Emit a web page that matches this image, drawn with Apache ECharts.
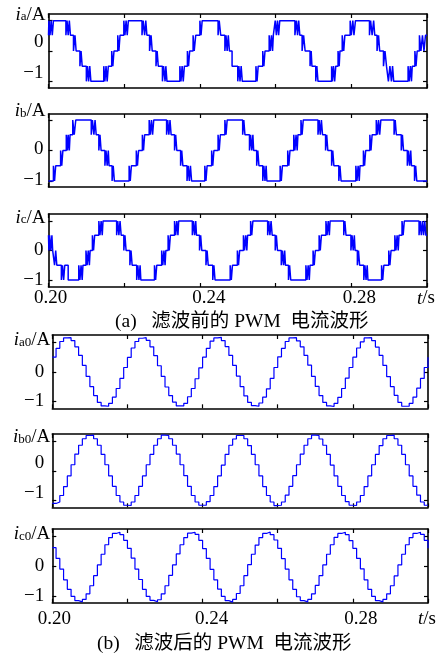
<!DOCTYPE html>
<html><head><meta charset="utf-8">
<script src="https://cdn.jsdelivr.net/npm/echarts@6/dist/echarts.min.js"></script>
<style>html,body{margin:0;padding:0;background:#fff}#c{width:439px;height:659px}</style>
</head><body><div id="c"></div>
<script>
// ---------- data (time in ms after t = 0.20 s) ----------
const xTickValuesMs = [0, 20, 40, 60, 80, 100];
const xTickLabels = ['0.20', '', '0.24', '', '0.28', 't/s'];
const yTickValues = [-1, 0, 1];
const yTickLabels = ['\u22121', '0'];           // top tick carries the panel name
const panelSubs = ['a', 'b', 'c', 'a0', 'b0', 'c0'];
const captionA = '(a)   滤波前的 PWM  电流波形';
const captionB = '(b)   滤波后的 PWM  电流波形';

// PWM currents before filtering: [switching instant ms, level after switching]
const iaSwitch = [[0,0.52],[0.1,1],[0.4,0.52],[0.7,1],[1.0,0.52],[1.3,1],
 [4.6,0.52],[4.9,1],[5.2,0.52],[5.5,1],[5.8,0.52],[6.6,0],[7.0,0.52],[7.3,0],[8.3,-0.5],[8.6,0],[8.9,-0.5],
 [10.0,-1],[10.3,-0.5],[10.6,-1],[10.9,-0.5],[11.2,-1],[14.6,-0.5],[14.9,-1],[15.2,-0.5],[15.5,-1],[15.8,-0.5],
 [16.7,0],[17.0,-0.5],[17.3,0],[18.3,0.52],[18.6,0],[18.9,0.52],[19.9,1],[20.2,0.52],[20.5,1],[20.8,0.52],[21.1,1],
 [24.7,0.52],[25.0,1],[25.4,0.52],[25.7,1],[26.0,0.52],[26.7,0],[27.1,0.52],[27.4,0],[28.4,-0.5],[28.7,0],[29.0,-0.5],
 [30.1,-1],[30.4,-0.5],[30.8,-1],[31.0,-0.5],[31.3,-1],[34.7,-0.5],[35.0,-1],[35.3,-0.5],[35.6,-1],[35.9,-0.5],
 [36.7,0],[37.0,-0.5],[37.3,0],[38.2,0.52],[38.5,0],[38.9,0.52],[40.0,1],[40.3,0.52],[40.6,1],
 [44.8,0.52],[45.1,1],[45.5,0.52],[46.6,0],[46.9,0.52],[47.2,0],[47.5,0.52],[47.8,0],[48.5,-0.5],
 [50.0,-1],[50.3,-0.5],[50.6,-1],[50.9,-0.5],[51.2,-1],[54.8,-0.5],[55.1,-1],[55.4,-0.5],
 [56.6,0],[56.9,-0.5],[57.2,0],[58.3,0.52],[58.6,0],[58.9,0.52],[59.2,0],[59.4,0.52],[59.9,1],[60.2,0.52],[60.5,1],[60.8,0.52],[61.1,1],
 [65.1,0.52],[65.5,1],[65.8,0.52],[66.1,1],[66.4,0.52],[67.0,0],[67.4,0.52],[67.8,0],[69.1,-0.5],[69.4,0],[69.6,-0.5],
 [70.6,-1],[70.9,-0.5],[71.2,-1],[74.8,-0.5],[75.0,-1],[75.3,-0.5],[75.6,-1],[75.9,-0.5],
 [76.5,0],[76.8,-0.5],[77.0,0],[77.6,0.52],[78.0,0],[78.3,0.52],[79.7,1],[80.0,0.52],[80.4,1],[80.7,0.52],[81.1,1],
 [84.8,0.52],[85.1,1],[85.5,0.52],[85.9,1],[86.2,0.52],[86.8,0],[87.2,0.52],[87.5,0],[88.5,-0.5],[88.9,0],[89.3,-0.5],
 [89.8,-1],[90.2,-0.5],[90.6,-1],[90.9,-0.5],[91.2,-1],[95.0,-0.5],[95.3,-1],[95.6,-0.5],[95.9,-1],[96.1,-0.5],
 [96.8,0],[97.1,-0.5],[97.4,0],[98.0,0.52],[98.4,0],[98.8,0.52],[99.2,0],[99.6,0.52],[100,0.52]];

const ibSwitch = [[0,-1],[1.3,-0.5],[1.6,-1],[1.9,-0.5],[3.2,0],[3.5,-0.5],[3.8,0],
 [4.7,0.52],[5.0,0],[5.2,0.52],[5.5,0],[5.7,0.52],[6.4,1],[6.8,0.52],[7.2,1],
 [11.3,0.52],[11.6,1],[12.0,0.52],[12.3,1],[12.6,0.52],[13.3,0],[13.6,0.52],[13.9,0],
 [14.9,-0.5],[15.2,0],[15.5,-0.5],[15.8,0],[16.0,-0.5],[16.8,-1],[17.1,-0.5],[17.4,-1],
 [21.3,-0.5],[21.6,-1],[21.9,-0.5],[23.2,0],[23.5,-0.5],[23.8,0],[24.8,0.52],[25.1,0],[25.4,0.52],
 [26.6,1],[26.9,0.52],[27.2,1],[27.5,0.52],[27.8,1],
 [31.2,0.52],[31.5,1],[31.8,0.52],[32.1,1],[32.4,0.52],[33.3,0],[33.6,0.52],[33.9,0],[34.9,-0.5],[35.2,0],[35.5,-0.5],
 [36.6,-1],[36.9,-0.5],[37.2,-1],[37.5,-0.5],[37.8,-1],[41.3,-0.5],[41.6,-1],[41.9,-0.5],[43.1,0],[43.4,-0.5],[43.7,0],
 [44.8,0.52],[45.1,0],[45.4,0.52],[46.6,1],[46.9,0.52],[47.2,1],
 [51.3,0.52],[51.6,1],[51.9,0.52],[53.1,0],[53.4,0.52],[53.7,0],[54.0,0.52],[54.2,0],[55.0,-0.5],[55.3,0],[55.6,-0.5],
 [56.6,-1],[56.9,-0.5],[57.2,-1],[57.5,-0.5],[57.7,-1],[61.2,-0.5],[61.5,-1],[61.8,-0.5],[63.2,0],[63.5,-0.5],[63.8,0],
 [64.8,0.52],[65.1,0],[65.4,0.52],[65.7,0],[65.9,0.52],[66.7,1],[67.0,0.52],[67.3,1],
 [71.2,0.52],[71.5,1],[71.8,0.52],[72.1,1],[72.4,0.52],[73.2,0],[73.5,0.52],[73.8,0],[74.8,-0.5],[75.1,0],[75.4,-0.5],
 [76.7,-1],[77.0,-0.5],[77.3,-1],[81.2,-0.5],[81.5,-1],[81.8,-0.5],[82.1,-1],[82.3,-0.5],[83.2,0],[83.5,-0.5],[83.8,0],
 [84.9,0.52],[85.2,0],[85.5,0.52],[86.6,1],[86.9,0.52],[87.2,1],[87.5,0.52],[87.8,1],
 [91.3,0.52],[91.6,1],[91.9,0.52],[93.2,0],[93.5,0.52],[93.8,0],[94.8,-0.5],[95.1,0],[95.4,-0.5],[95.7,0],[95.9,-0.5],
 [96.7,-1],[97.0,-0.5],[97.3,-1],[100,-1]];

const icSwitch = [[0,0.52],[0.1,0],[0.3,0.52],[0.6,0],[0.9,0.52],[1.1,0],[1.6,-0.5],[1.9,0],[2.2,-0.5],
 [3.4,-1],[3.7,-0.5],[4.0,-1],[4.3,-0.5],[5.2,-1],[8.0,-0.5],[8.3,-1],[8.6,-0.5],[8.9,-1],[9.1,-0.5],
 [9.9,0],[10.2,-0.5],[10.5,0],[10.8,-0.5],[11.0,0],[11.6,0.52],[11.9,0],[12.2,0.52],
 [13.3,1],[13.6,0.52],[13.9,1],[14.2,0.52],[14.4,1],
 [18.0,0.52],[18.3,1],[18.6,0.52],[18.9,1],[19.2,0.52],[19.9,0],[20.2,0.52],[20.5,0],[21.5,-0.5],[21.8,0],[22.1,-0.5],
 [23.3,-1],[23.6,-0.5],[23.9,-1],[24.2,-0.5],[24.4,-1],[28.0,-0.5],[28.3,-1],[28.6,-0.5],
 [29.9,0],[30.2,-0.5],[30.5,0],[30.8,-0.5],[31.0,0],[31.6,0.52],[31.9,0],[32.2,0.52],
 [33.3,1],[33.6,0.52],[33.9,1],[34.2,0.52],[34.4,1],
 [38.0,0.52],[38.3,1],[38.6,0.52],[38.9,1],[39.1,0.52],[39.9,0],[40.2,0.52],[40.5,0],[41.6,-0.5],[41.9,0],[42.2,-0.5],
 [43.4,-1],[43.7,-0.5],[44.0,-1],[48.0,-0.5],[48.3,-1],[48.6,-0.5],[49.9,0],[50.2,-0.5],[50.5,0],
 [51.5,0.52],[51.8,0],[52.1,0.52],[52.4,0],[52.6,0.52],[53.4,1],[53.7,0.52],[54.0,1],
 [57.9,0.52],[58.2,1],[58.5,0.52],[58.8,1],[59.1,0.52],[59.9,0],[60.2,0.52],[60.5,0],
 [61.5,-0.5],[61.8,0],[62.1,-0.5],[62.4,0],[62.6,-0.5],[63.4,-1],[63.7,-0.5],[64.0,-1],
 [68.0,-0.5],[68.3,-1],[68.6,-0.5],[68.9,-1],[69.1,-0.5],[69.9,0],[70.2,-0.5],[70.5,0],[71.5,0.52],[71.8,0],[72.1,0.52],
 [73.3,1],[73.6,0.52],[73.9,1],[74.2,0.52],[74.4,1],
 [78.0,0.52],[78.3,1],[78.6,0.52],[79.9,0],[80.2,0.52],[80.5,0],[80.8,0.52],[81.0,0],[81.6,-0.5],[81.9,0],[82.2,-0.5],
 [83.3,-1],[83.6,-0.5],[83.9,-1],[84.2,-0.5],[84.4,-1],[88.0,-0.5],[88.3,-1],[88.6,-0.5],[89.9,0],[90.2,-0.5],[90.5,0],
 [91.5,0.52],[91.8,0],[92.1,0.52],[92.4,0],[92.6,0.52],[93.4,1],[93.7,0.52],[94.0,1],
 [97.9,0.52],[98.2,1],[98.5,0.52],[98.8,1],[99.1,0.52],[99.4,1],[99.7,0.52],[100,0.52]];

// filtered currents, one held sample per ms from t = 0.200 s to 0.300 s
const sampleStepMs = 1;
const ia0 = [0.50,0.80,1.03,1.15,1.16,1.06,0.85,0.56,0.22,-0.15,-0.50,-0.80,-1.03,-1.15,-1.16,-1.06,-0.85,-0.56,-0.22,0.15,
 0.49,0.81,1.03,1.14,1.16,1.07,0.85,0.55,0.21,-0.15,-0.51,-0.80,-1.02,-1.15,-1.15,-1.06,-0.84,-0.56,-0.23,0.14,
 0.50,0.80,1.04,1.15,1.17,1.06,0.86,0.56,0.22,-0.14,-0.50,-0.81,-1.03,-1.14,-1.16,-1.05,-0.85,-0.57,-0.22,0.15,
 0.51,0.80,1.03,1.15,1.16,1.05,0.85,0.56,0.23,-0.15,-0.49,-0.80,-1.03,-1.15,-1.17,-1.06,-0.86,-0.56,-0.21,0.15,
 0.50,0.81,1.02,1.15,1.16,1.06,0.84,0.56,0.22,-0.16,-0.50,-0.79,-1.03,-1.16,-1.16,-1.06,-0.85,-0.55,-0.22,0.15,0.50];
const ib0 = [-1.10,-1.05,-0.83,-0.53,-0.17,0.21,0.57,0.87,1.09,1.20,1.21,1.09,0.87,0.56,0.21,-0.17,-0.52,-0.83,-1.05,-1.16,
 -1.17,-1.05,-0.83,-0.52,-0.17,0.21,0.56,0.87,1.09,1.21,1.20,1.09,0.87,0.57,0.21,-0.16,-0.52,-0.83,-1.05,-1.16,
 -1.16,-1.04,-0.83,-0.53,-0.17,0.20,0.56,0.87,1.08,1.20,1.20,1.09,0.86,0.56,0.21,-0.17,-0.53,-0.83,-1.05,-1.17,
 -1.16,-1.05,-0.82,-0.52,-0.16,0.21,0.57,0.87,1.09,1.21,1.20,1.08,0.87,0.56,0.20,-0.17,-0.52,-0.83,-1.04,-1.16,
 -1.17,-1.05,-0.83,-0.53,-0.17,0.21,0.56,0.86,1.09,1.20,1.21,1.09,0.87,0.56,0.21,-0.17,-0.52,-0.82,-1.05,-1.16,-1.16];
const ic0 = [0.62,0.26,-0.10,-0.46,-0.78,-1.02,-1.16,-1.20,-1.12,-0.93,-0.66,-0.32,0.04,0.40,0.72,0.96,1.10,1.14,1.06,0.87,
 0.60,0.27,-0.10,-0.45,-0.78,-1.02,-1.15,-1.20,-1.13,-0.93,-0.66,-0.31,0.04,0.41,0.72,0.96,1.11,1.14,1.07,0.87,
 0.59,0.26,-0.11,-0.46,-0.77,-1.02,-1.16,-1.21,-1.12,-0.92,-0.66,-0.32,0.05,0.40,0.71,0.96,1.10,1.15,1.06,0.88,
 0.60,0.25,-0.10,-0.46,-0.78,-1.03,-1.16,-1.20,-1.12,-0.93,-0.65,-0.32,0.04,0.40,0.72,0.97,1.10,1.14,1.06,0.86,
 0.60,0.26,-0.09,-0.46,-0.78,-1.02,-1.16,-1.20,-1.12,-0.93,-0.66,-0.33,0.04,0.40,0.72,0.96,1.10,1.14,1.07,0.87,0.60];

// ---------- layout / style ----------
const SERIF = "'Liberation Serif','Times New Roman',serif";
const CAPFONT = "'Liberation Serif','Noto Sans CJK SC',serif";
const layout = [
 {top:14,  h:74,   left:48.5, w:378.5, yMin:-1.22, yMax:1.22, nameUp:6,   numUp:8.5, numPadR:3, namePadR:1, showX:false, xMargin:2, lw:1.5},
 {top:114, h:73,   left:48.5, w:378.5, yMin:-1.2,  yMax:1.2,  nameUp:9,   numUp:1,   numPadR:3, namePadR:1, showX:false, xMargin:2, lw:1.5},
 {top:214, h:73,   left:48.5, w:378.5, yMin:-1.24, yMax:1.24, nameUp:3.5, numUp:0,   numPadR:3, namePadR:1, showX:true,  xMargin:2, lw:1.5},
 {top:335, h:73.3, left:52.3, w:375.7, yMin:-1.23, yMax:1.25, nameUp:2,   numUp:0,   numPadR:6, namePadR:0, showX:false, xMargin:7, lw:1.2},
 {top:434, h:73.3, left:52.3, w:375.7, yMin:-1.23, yMax:1.25, nameUp:4,   numUp:7.5, numPadR:6, namePadR:0, showX:false, xMargin:7, lw:1.2},
 {top:529, h:73.7, left:52.3, w:375.7, yMin:-1.23, yMax:1.25, nameUp:2,   numUp:0,   numPadR:6, namePadR:0, showX:true,  xMargin:7, lw:1.2}
];
const xLabelShift = [2, 0, 9, 0, 8, -1];

const axisLineStyle = {color:'#000', width:1.6};
const tickStyle = {color:'#000', width:1.2};

// y labels are bottom-aligned on their tick; a label's line height H lifts its text by H/2
function yRich(L) {
  const Hn = Math.max(2 * L.nameUp, 4.01);
  const Hm = Math.max(2 * L.numUp, 0.01);
  const base = {fontFamily:SERIF, color:'#000', fontSize:19};
  return {
    num: Object.assign({}, base, {lineHeight:Hm, padding:[0, L.numPadR, 0, 0]}),
    ni: Object.assign({}, base, {lineHeight:Hn, fontStyle:'italic'}),
    ns: {fontFamily:SERIF, color:'#000', fontSize:13, lineHeight:Hn - 4, padding:[4, 0, 0, 0]},
    nA: Object.assign({}, base, {lineHeight:Hn, padding:[0, L.namePadR, 0, 0]})
  };
}
function xRich() {
  const r = {};
  xLabelShift.forEach((s, i) => {
    r['x' + i] = {fontFamily:SERIF, color:'#000', fontSize:19, lineHeight:19,
      padding: s >= 0 ? [0, 0, 0, 2 * s] : [0, -2 * s, 0, 0]};
  });
  r.ti = {fontFamily:SERIF, color:'#000', fontSize:19, lineHeight:19, fontStyle:'italic'};
  r.tn = {fontFamily:SERIF, color:'#000', fontSize:19, lineHeight:19, padding:[0, 2, 0, 0]};
  return r;
}
function xFormatter(v) {
  const i = xTickValuesMs.indexOf(Math.round(v));
  if (i < 0) return '';
  const lab = xTickLabels[i];
  if (!lab) return '';
  if (lab === 't/s') return '{ti|t}{tn|/s}';
  return '{x' + i + '|' + lab + '}';
}

const seriesData = [
  iaSwitch, ibSwitch, icSwitch,
  ia0.map((v, i) => [i * sampleStepMs, v]),
  ib0.map((v, i) => [i * sampleStepMs, v]),
  ic0.map((v, i) => [i * sampleStepMs, v])
];

const grids = [], xAxes = [], yAxes = [], series = [];
layout.forEach((L, i) => {
  grids.push({left:L.left, top:L.top, width:L.w, height:L.h, outerBoundsMode:'none', containLabel:false});
  const xBase = {type:'value', gridIndex:i, min:0, max:100, interval:20,
    axisLine:{show:true, onZero:false, lineStyle:axisLineStyle},
    axisTick:{show:true, inside:true, length:4, lineStyle:tickStyle},
    splitLine:{show:false}};
  xAxes.push(Object.assign({}, xBase, {position:'bottom',
    axisLabel:{show:L.showX, margin:L.xMargin, showMinLabel:true, showMaxLabel:true, hideOverlap:false,
      formatter:xFormatter, rich:xRich()}}));
  xAxes.push(Object.assign({}, xBase, {position:'top', axisLabel:{show:false}}));
  const sub = panelSubs[i];
  const yBase = {type:'value', gridIndex:i, min:L.yMin, max:L.yMax,
    axisLine:{show:true, onZero:false, lineStyle:axisLineStyle},
    axisTick:{show:true, inside:true, length:4, lineStyle:tickStyle, customValues:yTickValues},
    splitLine:{show:false}};
  yAxes.push(Object.assign({}, yBase, {position:'left',
    axisLabel:{show:true, margin:2, verticalAlign:'bottom', customValues:yTickValues,
      showMinLabel:true, showMaxLabel:true, hideOverlap:false,
      formatter:function (v) {
        const k = yTickValues.indexOf(Math.round(v));
        if (k === 2) return '{ni|i}{ns|' + sub + '}{nA|/A}';
        return '{num|' + yTickLabels[k] + '}';
      }, rich:yRich(L)}}));
  yAxes.push(Object.assign({}, yBase, {position:'right', axisLabel:{show:false}}));
  series.push({type:'line', xAxisIndex:2 * i, yAxisIndex:2 * i, data:seriesData[i], step:'end',
    showSymbol:false, symbol:'none', clip:true, lineStyle:{color:'#0000ff', width:L.lw}});
});

const chart = echarts.init(document.getElementById('c'), null, {renderer:'canvas'});
chart.setOption({
  animation:false,
  backgroundColor:'#fff',
  grid:grids, xAxis:xAxes, yAxis:yAxes, series:series,
  graphic:[
    {type:'text', left:115, top:312, style:{text:captionA, font:'19.5px ' + CAPFONT, fill:'#000'}},
    {type:'text', left:97, top:634, style:{text:captionB, font:'19.5px ' + CAPFONT, fill:'#000'}}
  ]
});
</script></body></html>
